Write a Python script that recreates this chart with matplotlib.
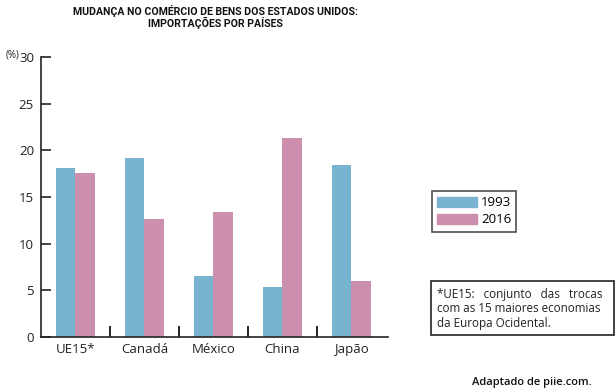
import numpy as np
import matplotlib.pyplot as plt
from matplotlib.patches import Patch

paises = ["UE15*", "Canadá", "México", "China", "Japão"]
v1993 = [18.1, 19.2, 6.5, 5.4, 18.4]
v2016 = [17.6, 12.6, 13.4, 21.3, 6.0]
anos = ["1993", "2016"]

azul = "#78b4d0"
rosa = "#cc8fad"

plt.rcParams['font.family'] = ['Open Sans', 'DejaVu Sans']

fig = plt.figure(figsize=(6.16, 3.9), dpi=100)
ax = fig.add_axes([41/616, 1 - 337/390, 347/616, 280/390])

x = np.arange(len(paises))
w = 0.285
ax.bar(x - w/2, v1993, w, color=azul)
ax.bar(x + w/2, v2016, w, color=rosa)

ax.set_xlim(-0.5, 4.53)
ax.set_ylim(0, 30)
ax.set_yticks(range(0, 31, 5))
ax.tick_params(axis='y', direction='in', length=7, width=1.2, labelsize=9.5, pad=5, colors='#222222')
ax.set_xticks(x)
ax.set_xticklabels(paises, fontsize=9.5)
ax.tick_params(axis='x', length=0, pad=4, colors='#222222')
# marcas de separacao entre grupos
ax.set_xticks(np.arange(0.5, 4.5, 1), minor=True)
ax.tick_params(axis='x', which='minor', direction='in', length=8, width=1.2)
for s in ['top', 'right']:
    ax.spines[s].set_visible(False)
for s in ['left', 'bottom']:
    ax.spines[s].set_linewidth(1.2)
    ax.spines[s].set_color('#222222')

fig.text(19/616, 1 - 55/390, "(%)", fontsize=7, ha='right', va='center', color='#222222')

# titulo
fig.text(215/616, 1 - 17/390, "MUDANÇA NO COMÉRCIO DE BENS DOS ESTADOS UNIDOS:\nIMPORTAÇÕES POR PAÍSES",
         fontsize=7.6, fontweight='bold', ha='center', va='center', linespacing=1.05,
         family=['Roboto', 'DejaVu Sans'], color='#111111')

# legenda
leg = fig.legend(handles=[Patch(color=azul), Patch(color=rosa)], labels=anos,
                 loc='upper left', bbox_to_anchor=(432/616, 1 - 191/390),
                 fontsize=9.5, frameon=True, fancybox=False, edgecolor='#222222',
                 handlelength=3.0, handleheight=0.8, borderpad=0.4, labelspacing=0.3,
                 handletextpad=0.3, borderaxespad=0)
leg.get_frame().set_linewidth(1.2)

# nota
nota = "*UE15:   conjunto   das   trocas\ncom as 15 maiores economias\nda Europa Ocidental."
fig.text(437/616, 1 - 309/390, nota, fontsize=8.4, ha='left', va='center', linespacing=1.15,
         color='#222222')
fig.patches.append(plt.Rectangle((431/616, 1 - 335/390), 183/616, 54/390, transform=fig.transFigure,
                                 fill=False, edgecolor='#222222', linewidth=1.2))

fig.text(592/616, 1 - 382/390, "Adaptado de piie.com.", fontsize=8, ha='right', va='center',
         fontweight='semibold', color='#111111')

fig.savefig("out.png", dpi=100)
